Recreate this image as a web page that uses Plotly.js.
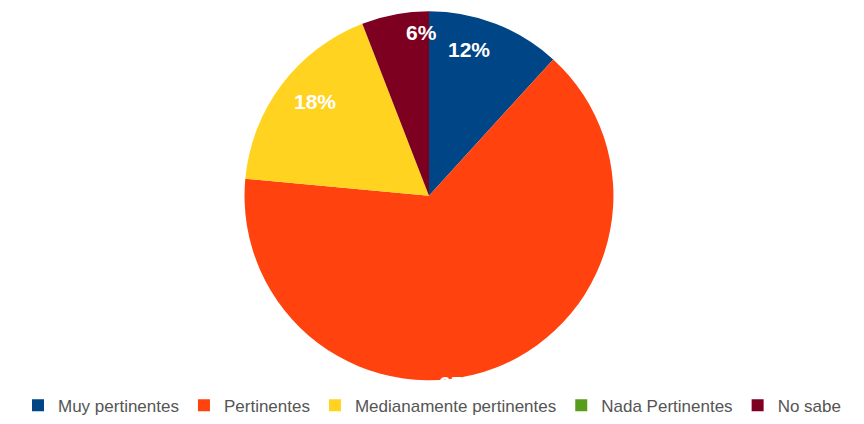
<!DOCTYPE html>
<html>
<head>
<meta charset="utf-8">
<script src="https://cdn.plot.ly/plotly-3.0.1.min.js"></script>
<style>html,body{margin:0;padding:0;background:#fff;}#chart{width:864px;height:424px;}</style>
</head>
<body>
<div id="chart"></div>
<script>
// ---- data ----
var categories = ["Muy pertinentes", "Pertinentes", "Medianamente pertinentes", "Nada Pertinentes", "No sabe"];
var counts = [2, 11, 3, 0, 1];
var colors = ["#004586", "#ff420e", "#ffd320", "#579d1c", "#7e0021"];

// ---- style / layout config ----
var W = 864, H = 424;
var domainX = [0.2789, 0.7141];
var domainY = [0.0861, 0.9729];
var labelRadius = [0.82, 1.03, 0.79, 0.8, 0.885];
var labelNudgeDeg = [-6, 12, 3, 0, 8];

var total = counts.reduce(function(a, b){ return a + b; }, 0);
var cx = (domainX[0] + domainX[1]) / 2 * W;
var cyFromBottom = (domainY[0] + domainY[1]) / 2 * H;
var r = Math.min((domainX[1] - domainX[0]) * W, (domainY[1] - domainY[0]) * H) / 2;

var annotations = [];
var cum = 0;
counts.forEach(function(v, i){
  var frac = v / total;
  var mid = (cum + frac / 2) * 360 + labelNudgeDeg[i];
  cum += frac;
  if (v <= 0) return;
  var th = mid * Math.PI / 180;
  var rr = r * labelRadius[i];
  annotations.push({
    xref: "paper", yref: "paper",
    x: (cx + rr * Math.sin(th)) / W,
    y: (cyFromBottom + rr * Math.cos(th)) / H,
    xanchor: "center", yanchor: "middle",
    text: Math.round(frac * 100) + "%",
    showarrow: false,
    font: {family: "Liberation Sans, Arial, sans-serif", size: 21, color: "#ffffff", weight: "bold"}
  });
});

var trace = {
  type: "pie",
  labels: categories,
  values: counts,
  sort: false,
  direction: "clockwise",
  rotation: 0,
  textinfo: "none",
  hoverinfo: "label+percent",
  marker: {colors: colors, line: {width: 0}},
  domain: {x: domainX, y: domainY}
};

var layout = {
  width: W, height: H,
  margin: {l: 0, r: 0, t: 0, b: 0},
  paper_bgcolor: "#ffffff",
  showlegend: true,
  legend: {
    orientation: "h",
    x: 0.5, xanchor: "center",
    y: 0.025, yanchor: "middle",
    font: {family: "Liberation Sans, Arial, sans-serif", size: 17, color: "#555555"},
    itemwidth: 30,
    tracegroupgap: 0
  },
  annotations: annotations
};

Plotly.newPlot("chart", [trace], layout, {displayModeBar: false, staticPlot: true});
</script>
</body>
</html>
